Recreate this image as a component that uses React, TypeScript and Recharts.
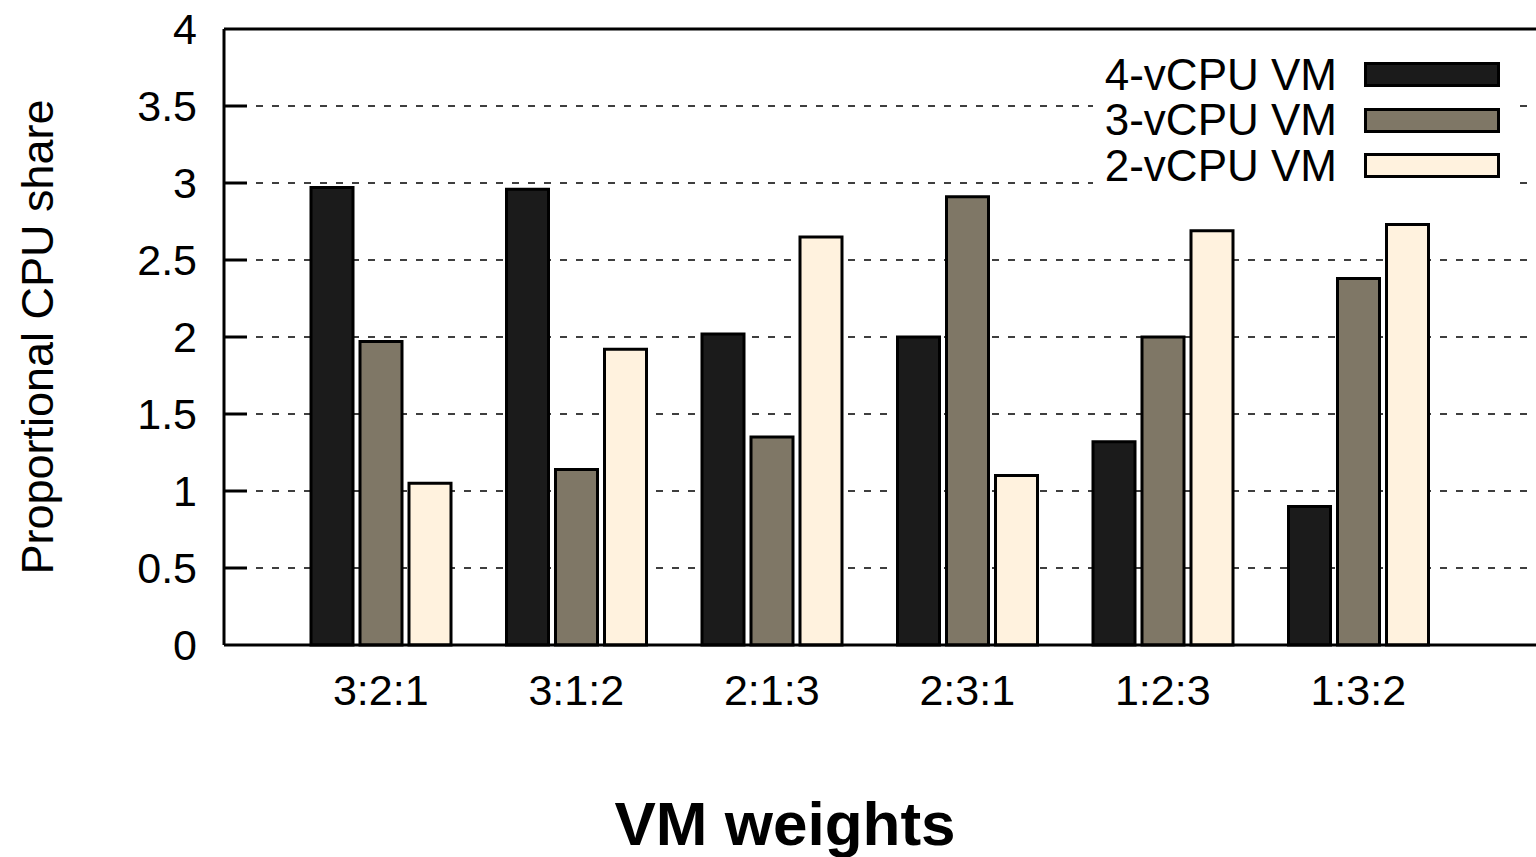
import React from 'react';
import { BarChart, Bar, XAxis, YAxis, CartesianGrid, Legend, ReferenceLine } from 'recharts';

const categories = ['3:2:1', '3:1:2', '2:1:3', '2:3:1', '1:2:3', '1:3:2'];
const vm4 = [2.97, 2.96, 2.02, 2.0, 1.32, 0.9];
const vm3 = [1.97, 1.14, 1.35, 2.91, 2.0, 2.38];
const vm2 = [1.05, 1.92, 2.65, 1.1, 2.69, 2.73];
const yTicks = [0, 0.5, 1, 1.5, 2, 2.5, 3, 3.5, 4];

const seriesKeys = ['vm4', 'vm3', 'vm2'];
const seriesNames = ['4-vCPU VM', '3-vCPU VM', '2-vCPU VM'];
const seriesColors = ['#1b1b1b', '#7f7766', '#fff2de'];

const data = categories.map((name, i) => ({ name, vm4: vm4[i], vm3: vm3[i], vm2: vm2[i] }));

const FONT = '"Liberation Sans", Arial, Helvetica, sans-serif';

// short tick pointing into the plot from the left border (gnuplot style)
const InwardTick = (p: any) => {
  const left = Math.min(Number(p.x1), Number(p.x2));
  return <path d={`M${left},${Number(p.y1)}h23`} stroke="#000" strokeWidth={3} fill="none" />;
};

const LegendBox = () => (
  <div style={{ background: '#fff', paddingRight: 20, fontFamily: FONT }}>
    {seriesNames.map((n, i) => (
      <div
        key={n}
        style={{ display: 'flex', alignItems: 'center', justifyContent: 'flex-end', height: 45.5 }}
      >
        <span style={{ fontSize: 44, lineHeight: 1, color: '#000' }}>{n}</span>
        <span
          style={{
            display: 'inline-block',
            width: 130,
            height: 19,
            border: '3px solid #000',
            background: seriesColors[i],
            marginLeft: 27,
          }}
        />
      </div>
    ))}
  </div>
);

export default function App() {
  return (
    <div
      style={{
        position: 'fixed',
        left: 0,
        top: 0,
        width: 1536,
        height: 857,
        overflow: 'hidden',
        background: '#fff',
        fontFamily: FONT,
      }}
    >
      <BarChart
        width={1600}
        height={857}
        data={data}
        margin={{ top: 29, right: 20, bottom: 0, left: 0 }}
        barSize={42}
        barGap={7}
      >
        <CartesianGrid
          horizontal
          vertical={false}
          stroke="#000"
          strokeWidth={1.5}
          strokeDasharray="7 9"
        />
        <XAxis
          dataKey="name"
          height={212}
          padding={{ left: 59, right: 124 }}
          axisLine={{ stroke: '#000', strokeWidth: 3 }}
          tickLine={false}
          tickSize={0}
          tickMargin={29}
          tick={{ fill: '#000', fontSize: 43, fontFamily: FONT }}
          interval={0}
          label={{
            value: 'VM weights',
            position: 'insideBottom',
            offset: 12,
            dx: -117,
            fill: '#000',
            fontSize: 62,
            fontWeight: 'bold',
            fontFamily: FONT,
          }}
        />
        <YAxis
          width={224}
          domain={[0, 4]}
          ticks={yTicks}
          interval={0}
          axisLine={{ stroke: '#000', strokeWidth: 3 }}
          tickLine={false}
          tickSize={0}
          tickMargin={27}
          tick={{ fill: '#000', fontSize: 43, fontFamily: FONT }}
          label={{
            value: 'Proportional CPU share',
            angle: -90,
            position: 'center',
            dx: -75,
            fill: '#000',
            fontSize: 45,
            fontFamily: FONT,
          }}
        />
        {yTicks.slice(1, -1).map((v) => (
          <ReferenceLine key={`t${v}`} y={v} stroke="#000" shape={InwardTick} />
        ))}
        <ReferenceLine y={4} stroke="#000" strokeWidth={3} />
        <Legend
          layout="vertical"
          align="center"
          verticalAlign="middle"
          content={<LegendBox />}
          wrapperStyle={{ position: 'absolute', top: 52, left: 1093, width: 427 }}
        />
        {seriesKeys.map((k, i) => (
          <Bar
            key={k}
            dataKey={k}
            name={seriesNames[i]}
            fill={seriesColors[i]}
            stroke="#000"
            strokeWidth={3}
            isAnimationActive={false}
          />
        ))}
      </BarChart>
    </div>
  );
}
